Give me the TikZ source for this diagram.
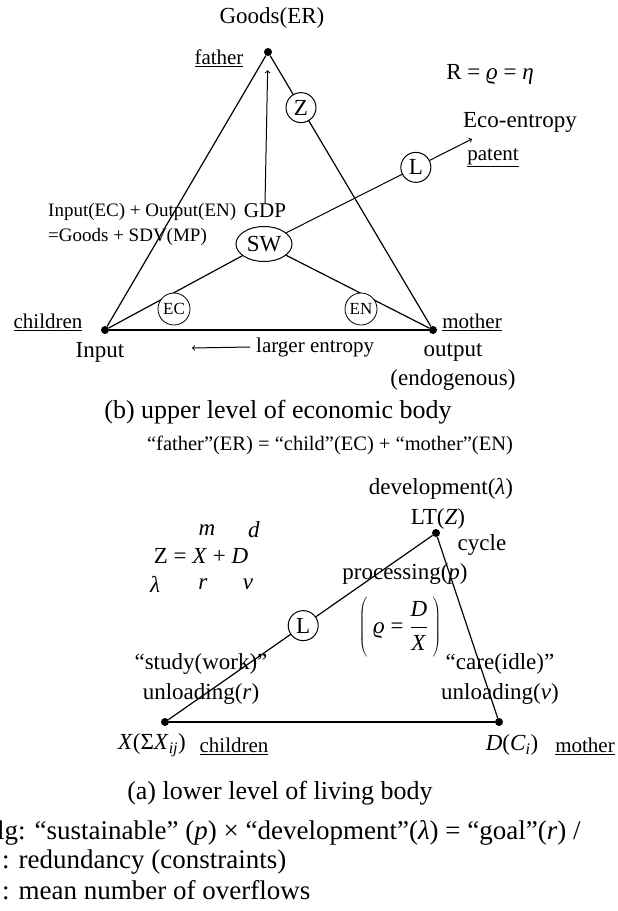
\documentclass[tikz,border=0pt]{standalone}
\usepackage{fontspec}
\setmainfont{Liberation Serif}
\usepackage{tikz}
\usetikzlibrary{positioning,calc,shapes.geometric}

\newcommand{\lblsize}{\fontsize{23}{26}\selectfont}
\newcommand{\capsize}{\fontsize{26}{30}\selectfont}
\newcommand{\legsize}{\fontsize{27}{30}\selectfont}
\newcommand{\notesize}{\fontsize{19}{22}\selectfont}
\newcommand{\tagsize}{\fontsize{21}{24}\selectfont}
\newcommand{\minisize}{\fontsize{17}{19}\selectfont}

\begin{document}
\begin{tikzpicture}[
			x=1pt, y=-1pt
			,every node/.append style={inner sep=0pt}
			,vtx/.style={circle, fill=black, minimum size=8pt}
			,lbl/.style={font=\lblsize}
			,captxt/.style={font=\capsize}
			,legtxt/.style={font=\legsize, anchor=west}
			,note/.style={font=\notesize}
			,tag/.style={font=\tagsize}
			,ring/.style={circle, draw, fill=white, line width=1pt, minimum size=30pt, font=\lblsize}
			,mini/.style={circle, draw, fill=white, line width=.8pt, minimum size=32pt, font=\minisize}
			,side/.style={line width=1.2pt}
			,base/.style={line width=2.2pt}
			,arr/.style={line width=1pt, ->}
		]
			\useasboundingbox (0,0) rectangle (618,911);

			% (b) upper level
			\node [vtx] (G) at (268,52) {};
			\node [vtx] (I) at (105,330) {};
			\node [vtx] (O) at (433,330) {};
			\draw [side] (G) -- (I);
			\draw [side] (G) -- (O);
			\draw [base] (I) -- (O);

			\node [lbl] (goods) at (272,18) {Goods(ER)};
			\node [tag] (father) at (219,58) {\underline{father}};
			\node [lbl] (req) at (490,74) {R = \textit{ϱ} = \textit{η}};
			\node [lbl] (eco) at (520,122) {Eco-entropy};
			\node [tag] (patent) at (493,158) {\underline{patent}};
			\node [note, anchor=west] (bal1) at (48,212) {Input(EC) + Output(EN)};
			\node [note, anchor=west] (bal2) at (48,237) {=Goods + SDV(MP)};
			\node [tag] (gdp) at (265,211) {GDP};
			\node [ellipse, draw, fill=white, line width=1pt, minimum width=56pt, minimum height=35pt, font=\lblsize] (SW) at (264,244) {SW};
			\coordinate (ecotip) at (472,139);

			\draw [side] (SW) -- (I);
			\draw [side] (SW) -- (O);
			\draw [arr] (SW) -- (ecotip);
			\draw [arr] (gdp.north) -- (G) [shorten >=14pt];

			\node [ring] (Z) at ($(G)!0.2!(O)$) {Z};
			\node [ring] (L1) at ($(SW)!0.73!(ecotip)$) {L};
			\node [mini] (EC) at (174,309) {EC};
			\node [mini] (EN) at (361,309) {EN};

			\node [tag] (child1) at (48,322) {\underline{children}};
			\node [tag] (mother1) at (472,322) {\underline{mother}};
			\node [lbl] (input) at (100,352) {Input};
			\node [lbl] (output) at (453,352) {output};
			\node [lbl] (endo) at (453,380) {(endogenous)};
			\node [tag, anchor=west] (entr) at (256,347) {larger entropy};
			\coordinate (entrEnd) at (192,348);
			\draw [arr] ([xshift=-6pt]entr.west) -- (entrEnd);

			\node [captxt] (capb) at (278,412) {(b) upper level of economic body};
			\node [note, font=\fontsize{20.5}{24}\selectfont] (ereq) at (330,445) {“father”(ER) = “child”(EC) + “mother”(EN)};

			% (a) lower level
			\node [vtx] (LT) at (436,533) {};
			\node [vtx] (X) at (165,722) {};
			\node [vtx] (D) at (499,722) {};
			\draw [side] (LT) -- (X);
			\draw [side] (LT) -- (D);
			\draw [base] (X) -- (D);

			\node [lbl] (dev) at (441,489) {development(\textit{λ})};
			\node [lbl] (ltz) at (438,519) {LT(\textit{Z})};
			\node [lbl] (cycle) at (482,545) {cycle};
			\node [lbl] (proc) at (405,574) {processing(\textit{p})};
			\node [ring] (L2) at ($(X)!0.51!(LT)$) {L};
			\node [lbl] (ratio) at (400,628) {$\displaystyle\left(\vrule height 27pt depth 25pt width 0pt\mbox{ \textit{ϱ} = }\frac{\mbox{\textit{D}}}{\mbox{\textit{X}}}\,\right)$};

			\node [lbl] (m) at (207,530) {\textit{m}};
			\node [lbl] (d) at (254,530) {\textit{d}};
			\node [lbl] (zxd) at (201,556) {Z = \textit{X} + \textit{D}};
			\node [lbl] (lam) at (155,584) {\textit{λ}};
			\node [lbl] (r) at (203,584) {\textit{r}};
			\node [lbl] (nu) at (248,584) {\textit{ν}};

			\node [lbl] (study) at (201,664) {“study(work)”};
			\node [lbl] (unr) at (201,694) {unloading(\textit{r})};
			\node [lbl] (care) at (500,664) {“care(idle)”};
			\node [lbl] (unnu) at (500,694) {unloading(\textit{ν})};

			\node [lbl] (xsum) at (152,745) {\textit{X}(Σ\textit{X}\textsubscript{\textit{ij}})};
			\node [tag] (child2) at (234,746) {\underline{children}};
			\node [lbl] (dci) at (512,745) {\textit{D}(\textit{C}\textsubscript{\textit{i}})};
			\node [tag] (mother2) at (585,746) {\underline{mother}};

			\node [captxt] (capa) at (280,793) {(a) lower level of living body};

			\node [legtxt] (goal) at (-3,833) {lg: “sustainable” (\textit{p}) × “development”(\textit{λ}) = “goal”(\textit{r}) /};
			\node [legtxt] (redu) at (2,862) {: redundancy (constraints)};
			\node [legtxt] (over) at (2,890) {: mean number of overflows};
		\end{tikzpicture}
\end{document}
